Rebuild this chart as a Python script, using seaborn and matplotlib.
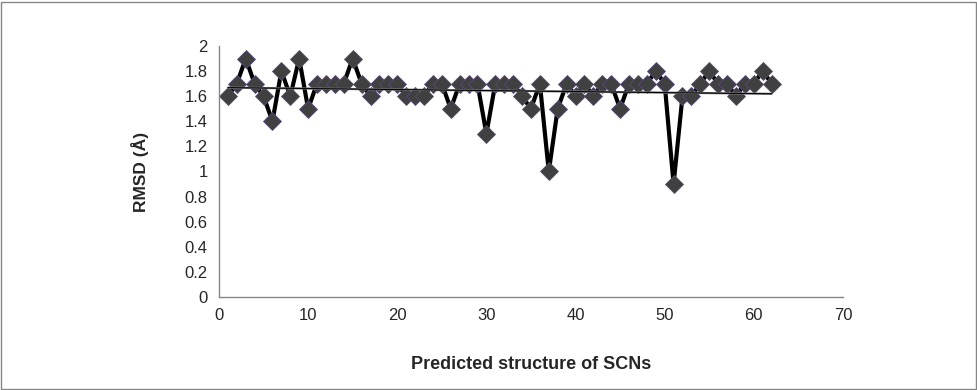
import numpy as np
import pandas as pd
import matplotlib
matplotlib.use('Agg')
import matplotlib.pyplot as plt
from matplotlib.patches import Rectangle
import seaborn as sns

structure = list(range(1, 63))
rmsd = [1.6, 1.7, 1.9, 1.7, 1.6, 1.4, 1.8, 1.6, 1.9, 1.5,
        1.7, 1.7, 1.7, 1.7, 1.9, 1.7, 1.6, 1.7, 1.7, 1.7,
        1.6, 1.6, 1.6, 1.7, 1.7, 1.5, 1.7, 1.7, 1.7, 1.3,
        1.7, 1.7, 1.7, 1.6, 1.5, 1.7, 1.0, 1.5, 1.7, 1.6,
        1.7, 1.6, 1.7, 1.7, 1.5, 1.7, 1.7, 1.7, 1.8, 1.7,
        0.9, 1.6, 1.6, 1.7, 1.8, 1.7, 1.7, 1.6, 1.7, 1.7,
        1.8, 1.7]
x_ticks = [0, 10, 20, 30, 40, 50, 60, 70]
y_ticks = [0, 0.2, 0.4, 0.6, 0.8, 1, 1.2, 1.4, 1.6, 1.8, 2]

df = pd.DataFrame({'structure': structure, 'rmsd': rmsd})

sns.set_style('white')
plt.rcParams['font.family'] = ['Liberation Sans Narrow', 'Liberation Sans', 'DejaVu Sans']

fig = plt.figure(figsize=(9.78, 3.9), dpi=100)
ax = fig.add_axes([0.2239, 0.2385, 0.638, 0.6436])

sns.lineplot(data=df, x='structure', y='rmsd', ax=ax, color='black', linewidth=3,
             marker='D', markersize=9, markerfacecolor='#404040',
             markeredgecolor='#5a4a78', markeredgewidth=0.6)

# linear trend line
coef = np.polyfit(df['structure'], df['rmsd'], 1)
xs = np.array([df['structure'].min(), df['structure'].max()])
ax.plot(xs, np.polyval(coef, xs), color='#808080', linewidth=1.6, zorder=3)
ax.plot(xs, np.polyval(coef, xs), color='black', linewidth=0.8, zorder=3)

ax.set_xlim(0, 70)
ax.set_ylim(0, 2)
ax.set_xticks(x_ticks)
ax.set_yticks(y_ticks)
ax.set_yticklabels([f'{v:g}' for v in y_ticks])
ax.tick_params(axis='both', length=0, labelsize=12, pad=8)

for side in ['top', 'right']:
    ax.spines[side].set_visible(False)
for side in ['left', 'bottom']:
    ax.spines[side].set_color('#868686')
    ax.spines[side].set_linewidth(1)

ax.set_xlabel('Predicted structure of SCNs', fontsize=13, fontweight='bold',
              family=['Liberation Sans', 'DejaVu Sans'], labelpad=24)
ax.set_ylabel('RMSD (Å)', fontsize=12.5, fontweight='bold',
              family=['Liberation Sans', 'DejaVu Sans'], labelpad=26)

fig.patches.append(Rectangle((0.001, 0.003), 0.997, 0.993, transform=fig.transFigure,
                             fill=False, edgecolor='#868686', linewidth=1))

fig.savefig('out.png', dpi=100)
